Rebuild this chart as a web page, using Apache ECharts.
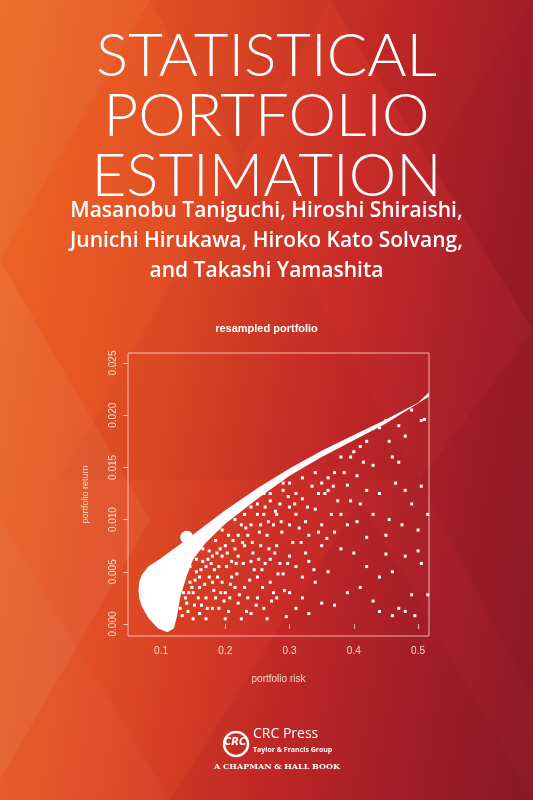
<!DOCTYPE html>
<html><head><meta charset="utf-8">
<script src="https://cdn.jsdelivr.net/npm/echarts@6/dist/echarts.min.js"></script>
<style>html,body{margin:0;padding:0;}#c{width:533px;height:800px;background:linear-gradient(100deg,#ef6a24 0%,#e04c24 33%,#c92c28 58%,#a41e2a 82%,#8c1a28 100%);}</style>
</head><body><div id="c"></div>
<script>
const titleLines = ['STATISTICAL','PORTFOLIO','ESTIMATION'];
const authorLines = ['Masanobu Taniguchi, Hiroshi Shiraishi,','Junichi Hirukawa, Hiroko Kato Solvang,','and Takashi Yamashita'];
const chartTitle = 'resampled portfolio';
const xTicks = [0.1,0.2,0.3,0.4,0.5];
const yTicks = [0,0.005,0.01,0.015,0.02,0.025];
// dense frontier region outline (risk, return)
const frontierUpper = [[0.065,0.0032],[0.066,0.0040],[0.07,0.0047],[0.08,0.0055],[0.09,0.0059],[0.1,0.0063],[0.12,0.0072],[0.14,0.0081],[0.17,0.0095],[0.2,0.0109],[0.25,0.0130],[0.3,0.0149],[0.35,0.0166],[0.4,0.0181],[0.45,0.0196],[0.5,0.0212],[0.517,0.0222]];
const frontierLower = [[0.517,0.0218],[0.45,0.0192],[0.4,0.0176],[0.35,0.0160],[0.3,0.0142],[0.25,0.0120],[0.2,0.0096],[0.17,0.0078],[0.15,0.0062],[0.14,0.0046],[0.13,0.0026],[0.125,0.0008],[0.12,-0.0004],[0.11,-0.0008],[0.095,-0.0004],[0.08,0.0006],[0.07,0.0017],[0.066,0.0025]];
const bump = [[0.14,0.0083]];
const scatterPts = [[0.51,0.0196],[0.505,0.0195],[0.49,0.0205],[0.47,0.019],[0.48,0.018],[0.45,0.0195],[0.44,0.0188],[0.455,0.0175],[0.46,0.016],[0.47,0.0155],[0.42,0.0175],[0.41,0.017],[0.4,0.0165],[0.395,0.016],[0.415,0.0155],[0.43,0.0152],[0.38,0.016],[0.37,0.0145],[0.36,0.014],[0.35,0.0135],[0.355,0.0125],[0.39,0.0133],[0.405,0.0142],[0.42,0.0128],[0.41,0.0115],[0.44,0.0125],[0.465,0.0135],[0.48,0.0128],[0.505,0.0132],[0.49,0.0115],[0.515,0.0105],[0.5,0.009],[0.475,0.0095],[0.455,0.01],[0.43,0.0105],[0.45,0.0085],[0.42,0.0083],[0.39,0.0095],[0.37,0.0088],[0.35,0.0075],[0.38,0.0072],[0.4,0.0068],[0.42,0.0055],[0.44,0.0045],[0.46,0.005],[0.48,0.0065],[0.505,0.0058],[0.515,0.0028],[0.49,0.0028],[0.47,0.0015],[0.48,0.0012],[0.495,0.0008],[0.46,0.0008],[0.44,0.0012],[0.43,0.0022],[0.41,0.0035],[0.39,0.003],[0.37,0.0018],[0.35,0.002],[0.33,0.001],[0.31,0.0015],[0.295,0.0007],[0.32,0.0025],[0.3,0.003],[0.34,0.004],[0.36,0.005],[0.33,0.006],[0.31,0.0055],[0.32,0.0045],[0.29,0.0048],[0.3,0.0065],[0.33,0.0085],[0.35,0.0095],[0.34,0.011],[0.32,0.012],[0.31,0.0105],[0.3,0.0095],[0.285,0.0115],[0.3,0.0135],[0.32,0.014],[0.34,0.0145],[0.36,0.0128],[0.375,0.0118],[0.38,0.0105],[0.405,0.0098],[0.45,0.0067],[0.5,0.007],[0.28,0.0075],[0.27,0.0062],[0.265,0.0085],[0.26,0.0105],[0.25,0.0115],[0.26,0.0125],[0.24,0.0095],[0.23,0.0075],[0.24,0.006],[0.25,0.0045],[0.27,0.004],[0.28,0.0025],[0.26,0.0015],[0.25,0.0025],[0.24,0.001],[0.22,0.002],[0.23,0.0035],[0.21,0.0045],[0.2,0.003],[0.19,0.0015],[0.21,0.006],[0.22,0.0085],[0.215,0.01],[0.2,0.0075],[0.19,0.0055],[0.18,0.004],[0.17,0.0025],[0.16,0.001],[0.18,0.0065],[0.17,0.0055],[0.16,0.0045],[0.15,0.003],[0.14,0.002],[0.23,0.0105],[0.24,0.0112],[0.27,0.0118],[0.29,0.0128],[0.31,0.0125],[0.28,0.0105],[0.275,0.0095],[0.255,0.0075],[0.245,0.0052],[0.285,0.0058],[0.215,0.0035],[0.205,0.0012],[0.225,0.0005],[0.265,0.0005],[0.275,0.003],[0.195,0.009],[0.185,0.008],[0.175,0.007],[0.165,0.006],[0.155,0.005],[0.145,0.004],[0.135,0.003],[0.13,0.0015],[0.12,0.0005],[0.15,0.0005],[0.17,0.0005],[0.18,0.0015],[0.2,0.0005],[0.29,0.0135],[0.27,0.0125],[0.25,0.0105],[0.22,0.0065],[0.195,0.0065],[0.175,0.0045],[0.16,0.0035],[0.225,0.0095],[0.205,0.0085],[0.155,0.0062],[0.165,0.0072],[0.145,0.0055],[0.185,0.0025],[0.195,0.004],[0.235,0.0025],[0.215,0.0072],[0.235,0.0085],[0.255,0.0095],[0.262,0.0058],[0.3,0.0112],[0.325,0.0098],[0.345,0.0125],[0.365,0.0105],[0.335,0.0132],
[0.135,0.0045],[0.138,0.0025],[0.142,0.0012],[0.148,0.0035],[0.152,0.0018],[0.158,0.0025],[0.162,0.0052],[0.168,0.0038],[0.172,0.0015],[0.178,0.0058],[0.182,0.0032],[0.188,0.0045],[0.192,0.0072],[0.198,0.0022],[0.202,0.0055],[0.208,0.0038],[0.212,0.008],[0.218,0.0048],[0.222,0.0028],[0.228,0.0058],[0.232,0.0092],[0.238,0.0042],[0.242,0.0078],[0.248,0.0018],[0.252,0.0062],[0.258,0.0035],[0.262,0.0112],[0.268,0.0072],[0.272,0.0022],[0.278,0.0108],[0.282,0.0048],[0.288,0.0088],[0.292,0.0032],[0.298,0.0122],[0.305,0.0078],[0.315,0.0092],[0.325,0.0068],[0.338,0.0052],[0.345,0.0088],[0.128,0.0035],[0.133,0.0008],[0.143,0.003],[0.153,0.0042],[0.163,0.0018],[0.173,0.0062],[0.183,0.0052],[0.187,0.0068],[0.193,0.003],[0.203,0.0068],[0.207,0.0025],[0.217,0.0058],[0.227,0.0078],[0.233,0.0012],[0.243,0.0068],[0.253,0.0088],[0.257,0.0052],[0.267,0.0098],[0.277,0.0068],[0.287,0.0098],[0.297,0.0058],[0.308,0.0115],[0.318,0.0078],[0.328,0.0112],[0.358,0.0082],[0.368,0.0132],[0.385,0.0145],[0.395,0.0118]];

const chart = echarts.init(document.getElementById('c'));
const W='#ffffff';
const tri = (pts,op)=>({type:'polygon',shape:{points:pts},style:{fill:'rgba(255,255,255,'+op+')'},silent:true,z:-10});
const triD = (pts,op)=>({type:'polygon',shape:{points:pts},style:{fill:'rgba(90,0,20,'+op+')'},silent:true,z:-10});
const graphic = [
 tri([[0,0],[150,0],[0,260]],0.04), triD([[150,0],[330,0],[240,160]],0.05), triD([[330,0],[533,0],[533,330]],0.08),
 tri([[0,260],[150,520],[0,780]],0.05), triD([[240,160],[420,480],[60,480]],0.04), triD([[420,480],[533,330],[533,700]],0.07),
 tri([[0,520],[170,800],[0,800]],0.03), triD([[170,800],[360,500],[533,800]],0.06), triD([[533,330],[430,160],[533,0]],0.05)
];
titleLines.forEach((t,i)=>graphic.push({type:'text',left:'center',top:27+i*60,style:{text:t,fill:W,font:'300 60px Lato',textAlign:'center'}}));
authorLines.forEach((t,i)=>graphic.push({type:'text',left:'center',top:201+i*30,style:{text:t,fill:W,font:'600 21px "Open Sans"',textAlign:'center'}}));
graphic.push({type:'circle',shape:{cx:236,cy:744,r:12},style:{fill:'none',stroke:W,lineWidth:2.5}});
graphic.push({type:'text',left:224,top:737,style:{text:'CRC',fill:W,font:'italic bold 10px "DejaVu Sans"'}});
graphic.push({type:'text',left:253,top:727,style:{text:'CRC Press',fill:W,font:'14px "Open Sans"'}});
graphic.push({type:'text',left:253,top:746,style:{text:'Taylor & Francis Group',fill:W,font:'bold 7px "Open Sans"'}});
graphic.push({type:'text',left:214,top:763,style:{text:'A CHAPMAN & HALL BOOK',fill:W,font:'bold 8px "DejaVu Serif"'}});

chart.setOption({
 animation:false,
 title:{text:chartTitle,left:'center',top:318,textStyle:{color:W,fontSize:11,fontWeight:'bold',fontFamily:'Liberation Sans'}},
 graphic,
 grid:{left:128,top:353,width:301,height:283,show:true,borderColor:'rgba(255,230,210,0.75)',borderWidth:1,backgroundColor:'transparent'},
 xAxis:{type:'value',min:0.0486,max:0.517,name:'portfolio risk',nameLocation:'middle',nameGap:38,
   nameTextStyle:{color:'rgba(255,235,220,0.9)',fontSize:10,fontFamily:'Liberation Sans'},
   axisLine:{show:false},splitLine:{show:false},
   axisTick:{show:true,inside:false,length:5,customValues:xTicks,lineStyle:{color:'rgba(255,230,210,0.75)'}},
   axisLabel:{customValues:xTicks,color:'rgba(255,235,220,0.9)',fontSize:10,margin:10,formatter:v=>v.toFixed(1)}},
 yAxis:{type:'value',min:-0.00115,max:0.02596,name:'portfolio return',nameLocation:'middle',nameGap:38,
   nameTextStyle:{color:'rgba(255,235,220,0.85)',fontSize:9,fontFamily:'Liberation Sans'},
   axisLine:{show:false},splitLine:{show:false},
   axisTick:{show:true,inside:false,length:5,customValues:yTicks,lineStyle:{color:'rgba(255,230,210,0.75)'}},
   axisLabel:{customValues:yTicks,rotate:90,color:'rgba(255,235,220,0.9)',fontSize:10,margin:10,formatter:v=>v.toFixed(3)}},
 series:[
  {type:'custom',coordinateSystem:'cartesian2d',data:[0],clip:true,
   renderItem:(p,api)=>({type:'polygon',shape:{points:frontierUpper.concat(frontierLower).map(d=>api.coord(d))},style:{fill:W}})},
  {type:'scatter',data:bump,symbolSize:13,itemStyle:{color:W,opacity:1}},
  {type:'scatter',data:scatterPts,symbolSize:3,symbol:'rect',itemStyle:{color:W,opacity:1}}
 ]
});
</script></body></html>
